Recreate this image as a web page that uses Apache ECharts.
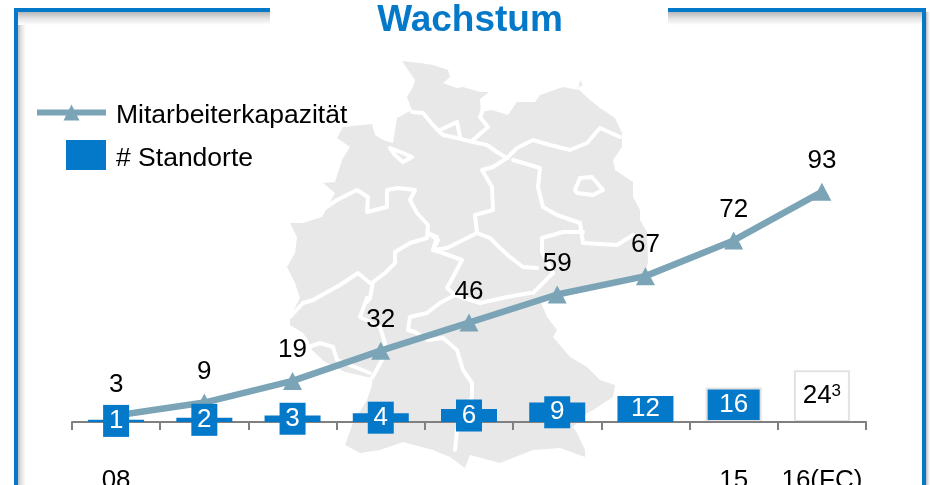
<!DOCTYPE html>
<html>
<head>
<meta charset="utf-8">
<style>html,body{margin:0;padding:0;background:#fff}#c{width:930px;height:485px}</style>
<script src="https://cdn.jsdelivr.net/npm/echarts@6/dist/echarts.min.js"></script>
</head>
<body>
<div id="c"></div>
<script>
// Data
const categories = ['08','','','','','','','15','16(FC)'];
const standorte = [1,2,3,4,6,9,12,16,24];
const kapazitaetLabels = [3,9,19,32,46,59,67,72,93];
// Height of the line as drawn; the last two points sit higher than their printed labels
const kapazitaetPlotted = [3,9,19,33,46,59,67.5,84,106.5];

const BLUE = '#0579c9', STEEL = '#7ba4b7', PALE = '#e2e2e2', FONT = '"Liberation Sans", Arial, sans-serif';

// Decorative background: outline and state borders of Germany
const outline = [[402,61],[420,63],[433,65],[448,70],[450,77],[443,83],[457,88],[463,87],[480,92],[492,92],[482,100],[480,112],[492,110],[508,115],[517,102],[535,102],[540,95],[563,87],[578,90],[580,80],[583,85],[577,88],[590,100],[600,108],[615,118],[622,133],[622,147],[613,160],[615,170],[633,182],[633,197],[640,210],[640,220],[647,232],[648,262],[645,275],[600,285],[560,292],[540,300],[547,317],[557,330],[553,337],[570,357],[587,367],[600,380],[615,385],[613,397],[593,410],[587,413],[573,427],[577,433],[585,450],[585,457],[560,448],[533,450],[500,463],[470,455],[465,468],[450,457],[433,450],[403,442],[380,450],[360,453],[345,445],[353,423],[367,400],[372,385],[372,378],[345,372],[325,362],[312,350],[308,340],[303,333],[290,325],[290,317],[300,298],[295,283],[287,267],[295,253],[297,237],[290,223],[303,223],[322,217],[335,193],[323,183],[335,182],[342,160],[350,147],[337,138],[343,127],[372,124],[375,135],[383,140],[393,143],[397,118],[412,110],[407,97],[413,87],[415,80]];
const borders = [
 [[412,112],[423,113],[433,125],[443,135],[457,138],[473,142],[487,145],[497,152],[507,158]],
 [[440,130],[457,122],[460,137]],
 [[473,140],[488,127],[480,117],[483,110],[482,100],[492,92]],
 [[507,158],[517,148],[533,140],[550,145],[570,150],[587,143],[600,128],[620,137]],
 [[575,190],[580,178],[592,177],[603,190],[593,195],[577,193],[575,190]],
 [[390,148],[403,153],[412,157],[403,162],[395,155],[390,148]],
 [[507,158],[493,167],[482,170],[492,187],[493,210],[475,215],[477,233]],
 [[513,160],[540,168],[538,187],[543,207],[557,215],[580,223],[583,243],[617,245],[633,235]],
 [[583,232],[563,232],[542,238],[542,252],[553,273],[533,293]],
 [[477,233],[467,238],[447,248],[433,250],[437,237],[428,233]],
 [[477,233],[490,238],[500,248],[510,257],[523,267],[537,268]],
 [[322,210],[337,200],[357,190],[368,197],[367,212],[387,207],[387,190],[398,188],[415,190],[410,200],[417,213],[428,225],[427,238],[410,243],[395,252],[395,263],[385,273],[373,282],[370,298],[367,302]],
 [[428,233],[438,240],[433,250],[443,253],[462,260],[453,277],[447,288],[455,295],[440,303],[427,313],[410,317],[408,330],[415,332],[428,340],[443,338],[457,350],[463,370],[472,383],[472,397],[457,430],[455,450]],
 [[455,295],[480,303],[507,297],[530,293]],
 [[290,317],[303,303],[313,300],[340,285],[358,273],[370,283]],
 [[367,298],[360,317],[380,327],[385,343],[382,360],[372,378]],
 [[300,350],[320,343],[333,347],[337,360],[370,373]]
];
const mapGraphics = [
  {type:'polygon', z:0, shape:{points:outline}, style:{fill:'#e8e8e8'}},
  ...borders.map(p => ({type:'polyline', z:0, shape:{points:p}, style:{stroke:'#fff', lineWidth:4, lineJoin:'round', lineCap:'round', fill:null}}))
];
const shade = (x0,y0,x1,y1) => ({type:'linear',x:x0,y:y0,x2:x1,y2:y1,global:true,colorStops:[{offset:0,color:'#b8b8b8'},{offset:0.5,color:'#e4e4e4'},{offset:1,color:'#ffffff'}]});
const rect = (x,y,width,height,fill) => ({type:'rect', z:0, shape:{x,y,width,height}, style:{fill}});
const frameGraphics = [
  rect(17,12,9,473,shade(17,0,26,0)),
  rect(926,12,4,473,shade(926,0,930,0)),
  rect(17,12,253,13,shade(0,12,0,25)),
  rect(668,12,254,13,shade(0,12,0,25)),
  rect(14,8,256,4,BLUE),
  rect(668,8,258,4,BLUE),
  rect(14,8,4,477,BLUE),
  rect(922,8,4,477,BLUE)
];

// Small values carry a boxed number on top of the axis; the larger, outlined bars sit behind it
const boxedData = standorte.map((v,i) => {
  if (i >= 7) return '-';
  const item = {value:v};
  if (v < 12) item.label = {show:true, position:'inside', color:'#fff', backgroundColor:BLUE, width:26, height:32, lineHeight:32, align:'center'};
  return item;
});
const outlinedData = standorte.map((v,i) => {
  if (i < 7) return '-';
  const last = i === standorte.length-1;
  const item = {value:v, itemStyle:{color:last?'#fff':BLUE, borderColor:PALE, borderWidth:2}};
  if (last) item.label = {show:true, position:'inside', color:'#000', formatter:'{a|'+v+'}{sup|3}',
    rich:{a:{fontSize:26,fontFamily:FONT,color:'#000'},sup:{fontSize:17,fontFamily:FONT,color:'#000',verticalAlign:'top'}}};
  return item;
});
const barLabel = {show:true, position:'inside', fontSize:26, fontFamily:FONT, color:'#fff'};
const legendText = pad => ({fontSize:26.5, fontFamily:FONT, color:'#000', padding:[0,0,0,5],
  rich:{t:{fontSize:26.5, fontFamily:FONT, color:'#000', padding:[pad,0,0,0]}}});

const chart = echarts.init(document.getElementById('c'), null, {renderer:'canvas'});
chart.setOption({
  animation:false,
  backgroundColor:'#fff',
  title:{text:'Wachstum', left:465, textAlign:'center', top:-3, textStyle:{color:BLUE, fontFamily:FONT, fontWeight:'bold', fontSize:37}},
  graphic:[...mapGraphics, ...frameGraphics],
  legend:[
    {data:['Mitarbeiterkapazität'], left:29, top:97, itemWidth:69, itemHeight:20, itemGap:0, lineStyle:{width:6}, formatter:'{t|{name}}', textStyle:legendText(6)},
    {data:['# Standorte'], left:61, top:135, itemWidth:40, itemHeight:30, itemGap:0, icon:'rect', itemStyle:{borderWidth:0}, formatter:'{t|{name}}', textStyle:legendText(8)}
  ],
  grid:{left:72, width:794, top:33, height:389, outerBoundsMode:'none'},
  xAxis:{type:'category', z:2, data:categories, boundaryGap:true,
    axisLine:{lineStyle:{color:'#808080', width:2}},
    axisTick:{show:true, length:8, alignWithLabel:false, lineStyle:{color:'#808080', width:2}, interval:0},
    axisLabel:{interval:0, margin:46, fontSize:26, fontFamily:FONT, color:'#000'}},
  yAxis:{type:'value', min:0, max:180, show:false, splitLine:{show:false}},
  series:[
    {name:'# Standorte', type:'bar', z:1, barWidth:56, barGap:'-100%', data:outlinedData, itemStyle:{color:BLUE}, label:barLabel},
    {name:'# Standorte', type:'bar', z:4, barWidth:56, barGap:'-100%', data:boxedData, itemStyle:{color:BLUE}, label:barLabel},
    {name:'Mitarbeiterkapazität', type:'line', z:3, data:kapazitaetPlotted,
     lineStyle:{color:STEEL, width:6.5}, itemStyle:{color:STEEL},
     symbol:'triangle', symbolSize:[19,18], showAllSymbol:true,
     label:{show:true, position:'top', distance:9, fontSize:26, fontFamily:FONT, color:'#000',
       formatter:p => kapazitaetLabels[p.dataIndex]}}
  ]
});
</script>
</body>
</html>
